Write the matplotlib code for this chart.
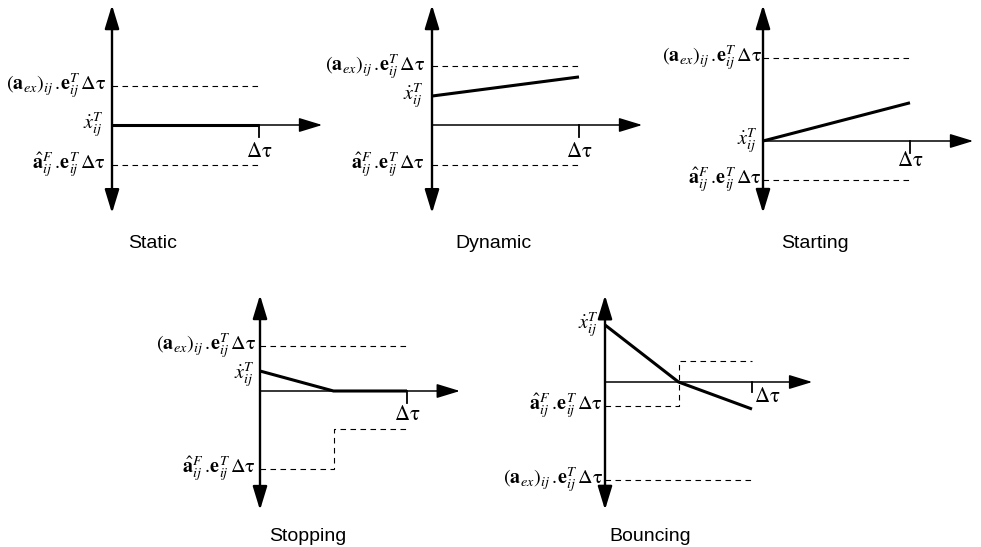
import matplotlib
matplotlib.use("Agg")
import matplotlib.pyplot as plt

plt.rcParams["mathtext.fontset"] = "stix"
plt.rcParams["font.family"] = ["Liberation Sans", "DejaVu Sans"]

# --- data (x in units of the time step, y in the same units) ---
panel_names = ["Static", "Dynamic", "Starting", "Stopping", "Bouncing"]

# tangential velocity over one step
vel_x = [[0, 1], [0, 1], [0, 1], [0, 0.5, 1], [0, 0.5, 1]]
vel_y = [[0, 0], [0.197, 0.327], [0, 0.26], [0.136, 0, 0], [0.388, 0, -0.184]]

# external acceleration bound (a_ex . e^T dt)
aex_level = [0.265, 0.40, 0.565, 0.306, -0.667]

# friction bound (a^F . e^T dt), stepwise
fric_x = [[0, 1], [0, 1], [0, 1], [0, 0.5, 1], [0, 0.5, 1]]
fric_y = [[-0.272, -0.272], [-0.27, -0.27], [-0.265, -0.265],
          [-0.53, -0.26, -0.26], [-0.163, 0.143, 0.143]]

dt = r"\Delta\mathrm{\tau}"
lbl_aex = r"$(\mathbf{a}_{ex})_{ij}\,.\!\mathbf{e}_{ij}^{T}\,%s$" % dt
lbl_fric = r"$\hat{\mathbf{a}}_{ij}^{F}\,.\!\mathbf{e}_{ij}^{T}\,%s$" % dt
lbl_vel = r"$\dot{x}_{ij}^{T}$"
lbl_dt = r"$%s$" % dt

# --- layout (pixels) ---
W, H, DPI = 981, 547, 100
U = 147.0  # pixels per unit
origins = [(112, 125), (432, 125), (763, 141), (260, 391), (605, 382)]
y_top = [0.816, 0.816, 0.925, 0.653, 0.59]
y_bot = [-0.60, -0.60, -0.49, -0.81, -0.87]
x_tip = [1.43, 1.43, 1.43, 1.36, 1.41]
label_gap = [6, 7, 1, 4, 2]
vel_gap = [8, 8, 5, 5, 6]
vel_dy = [0, 0, 0, -4, 0]
title_pos = [(153, 248), (493, 248), (815, 248), (308, 541), (650, 541)]

fig = plt.figure(figsize=(W / DPI, H / DPI), dpi=DPI)

head = "head_length=0.72,head_width=0.22"
dash = (0, (5, 4))

for i, name in enumerate(panel_names):
    ox, oy = origins[i]
    ax = fig.add_axes([0, 0, 1, 1])
    ax.set_xlim(-ox / U, (W - ox) / U)
    ax.set_ylim(-(H - oy) / U, oy / U)
    ax.set_axis_off()
    ax.patch.set_alpha(0)

    # vertical axis with arrows both ways
    ax.annotate("", xy=(0, y_top[i]), xytext=(0, y_bot[i]),
                arrowprops=dict(arrowstyle="<|-|>," + head, lw=1.7, color="black",
                                mutation_scale=20, shrinkA=0, shrinkB=0))
    # time axis
    ax.annotate("", xy=(x_tip[i], 0), xytext=(0, 0),
                arrowprops=dict(arrowstyle="-|>," + head, lw=1.1, color="black",
                                mutation_scale=20, shrinkA=0, shrinkB=0))
    # step tick
    tick_len = 10 if name == "Bouncing" else 12
    ax.plot([1, 1], [0, -tick_len / U], color="black", lw=1.3)
    if name == "Bouncing":
        ax.annotate(lbl_dt, xy=(1, 0), xytext=(2, -15), textcoords="offset pixels",
                    ha="left", va="center", fontsize=15)
    else:
        drop = {"Starting": 19, "Stopping": 24}.get(name, 27)
        ax.annotate(lbl_dt, xy=(1, 0), xytext=(0, -drop), textcoords="offset pixels",
                    ha="center", va="center", fontsize=15)

    # bounds
    ax.plot([0, 1], [aex_level[i], aex_level[i]], color="black", lw=0.8, linestyle=dash)
    ax.plot(fric_x[i], fric_y[i], color="black", lw=0.8, linestyle=dash,
            drawstyle="steps-post")

    # velocity trace
    ax.plot(vel_x[i], vel_y[i], color="black", lw=2.2, solid_capstyle="butt")

    gap = -label_gap[i]
    ax.annotate(lbl_aex, xy=(0, aex_level[i]), xytext=(gap, 0), textcoords="offset pixels",
                ha="right", va="center", fontsize=14.5)
    ax.annotate(lbl_fric, xy=(0, fric_y[i][0]), xytext=(gap, 0), textcoords="offset pixels",
                ha="right", va="center", fontsize=14.5)
    ax.annotate(lbl_vel, xy=(0, vel_y[i][0]), xytext=(-vel_gap[i], vel_dy[i]),
                textcoords="offset pixels", ha="right", va="center", fontsize=14.5)

    tx, ty = title_pos[i]
    fig.text(tx / W, 1 - ty / H, name, ha="center", va="baseline", fontsize=14)

fig.savefig("out.png", dpi=DPI)
